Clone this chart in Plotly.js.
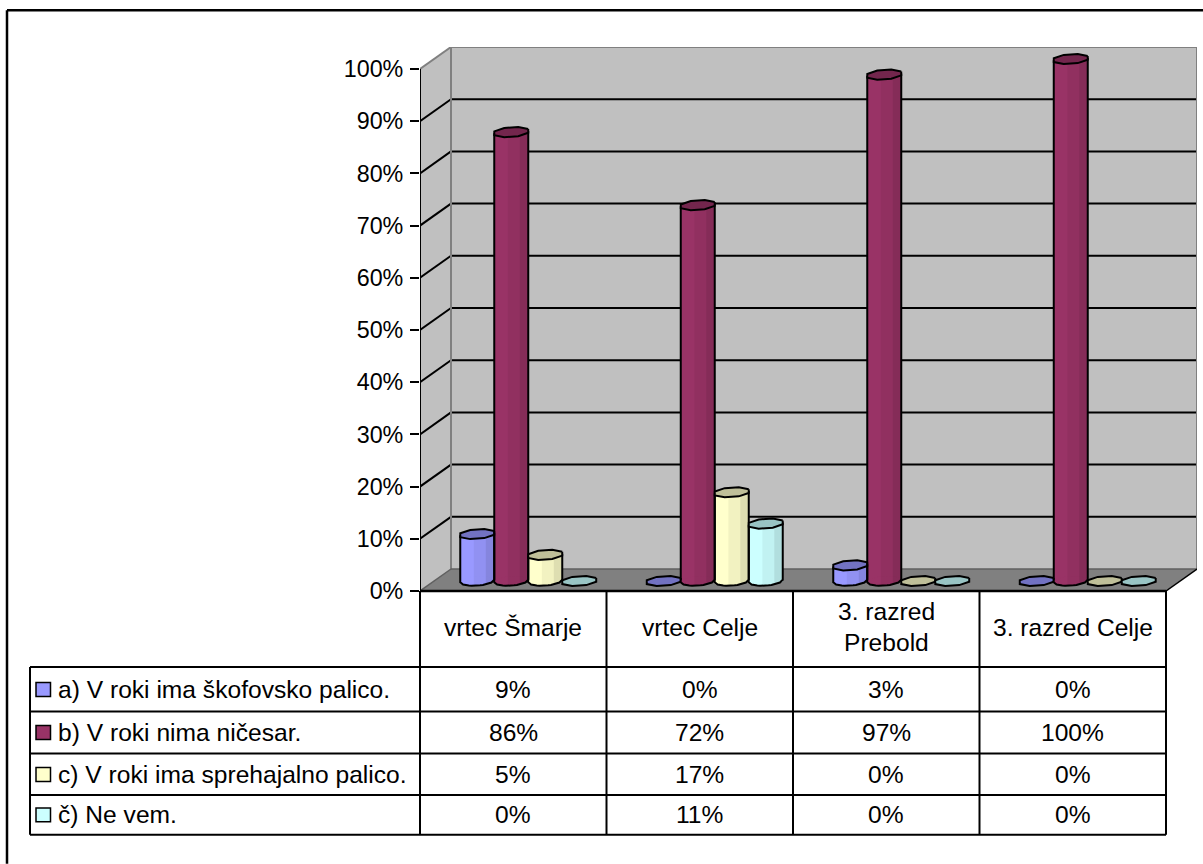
<!DOCTYPE html>
<html>
<head>
<meta charset="utf-8">
<script src="https://cdn.plot.ly/plotly-3.0.1.min.js"></script>
<style>html,body{margin:0;padding:0;background:#fff}#chart{width:1203px;height:864px}</style>
</head>
<body>
<div id="chart"></div>
<script>
// ---- chart data (percent) ----
const categories = ["vrtec Šmarje", "vrtec Celje", "3. razred<br>Prebold", "3. razred Celje"];
const seriesNames = [
  "a) V roki ima škofovsko palico.",
  "b) V roki nima ničesar.",
  "c) V roki ima sprehajalno palico.",
  "č) Ne vem."
];
const valuesA = [9, 0, 3, 0];
const valuesB = [86, 72, 97, 100];
const valuesC = [5, 17, 0, 0];
const valuesD = [0, 11, 0, 0];
const yTicks = [0, 10, 20, 30, 40, 50, 60, 70, 80, 90, 100];

// ---- styles ----
const faceColors = ["#9999ff", "#993366", "#ffffcc", "#ccffff"];
const capColors = ["#7272c2", "#73264d", "#bfbf99", "#99c4c4"];
const allValues = [valuesA, valuesB, valuesC, valuesD];
const FONT = "Liberation Sans, Arial, sans-serif";
const FS = 23.3, TABLE_FS = 24.6;

// ---- geometry (pixels of the picture) ----
const L = 420, R = 1197, T = 46.7, B = 591;
const frontRight = 1166, frontTop = 68.7;
const colW = (frontRight - L) / 4;
const pxPerPct = (B - frontTop) / 100;
const xMax = (R - L) / colW;
const yMax = (B - T) / pxPerPct;
const depthX = (R - frontRight) / colW;     // wall depth in axis units
const depthY = (frontTop - T) / pxPerPct;
const baseY = 10 / pxPerPct;                // bars stand mid-way on the floor
const shiftX = 15 / colW;
const barW = 34 / colW;
const capH = 4.6 / pxPerPct, capTilt = 1.2 / pxPerPct;

const px = v => (v - L) / (R - L);
const py = v => (B - v) / (B - T);
const line = (x0, y0, x1, y1, color, width, xref, yref) => ({
  type: "line", x0, y0, x1, y1, xref: xref || "x", yref: yref || "y",
  line: {color, width}, layer: "below"
});
const pline = (x0, y0, x1, y1, width) => ({
  type: "line", x0: px(x0), y0: py(y0), x1: px(x1), y1: py(y1),
  xref: "paper", yref: "paper", line: {color: "#000", width: width || 2}, layer: "above"
});
const poly = (pts, fill, stroke) => ({
  type: "path", xref: "x", yref: "y", layer: "below", fillcolor: fill,
  line: {color: stroke || fill, width: stroke ? 2 : 0},
  path: "M" + pts.map(p => p.join(",")).join("L") + "Z"
});

const shapes = [];
// walls & floor
shapes.push(poly([[0, 0], [depthX, depthY], [depthX, yMax], [0, 100]], "#c0c0c0"));
shapes.push(poly([[depthX, depthY], [xMax, depthY], [xMax, yMax], [depthX, yMax]], "#c0c0c0"));
shapes.push(poly([[0, 0], [depthX, depthY], [xMax, depthY], [4, 0]], "#808080"));
// wall gridlines
yTicks.forEach(v => {
  if (v > 0 && v < 100) {
    shapes.push(line(0, v, depthX, v + depthY, "#000", 2));
    shapes.push(line(depthX, v + depthY, xMax, v + depthY, "#000", 2));
  }
});
// wall edges
shapes.push(line(0, 100, depthX, yMax, "#808080", 2));
shapes.push(line(depthX, yMax, xMax, yMax, "#808080", 2));
shapes.push(line(xMax, yMax, xMax, depthY, "#808080", 2));
shapes.push(line(depthX, yMax, depthX, depthY, "#808080", 2));
shapes.push(line(depthX, depthY, xMax, depthY, "#606060", 1.5));
shapes.push(line(0, 0, depthX, depthY, "#606060", 1.5));
shapes.push(line(4, 0, xMax, depthY, "#000", 1.5));

// table
const rowY = [667, 711.5, 753.5, 795, 835];
const colX = [L, L + colW, L + 2 * colW, L + 3 * colW, frontRight];
shapes.push(pline(L, 591, frontRight, 591, 2.5));
colX.forEach(x => shapes.push(pline(x, 591, x, 835)));
rowY.forEach(y => shapes.push(pline(30, y, frontRight, y)));
shapes.push(pline(30, 667, 30, 835));
// outer frame: only top and left are inside the picture
shapes.push(pline(7, 10, 1203, 10, 2.5));
shapes.push(pline(7, 10, 7, 864, 2.5));

// table text
const annotations = [];
const text = (t, x, y, anchor) => annotations.push({
  text: t, x: px(x), y: py(y), xref: "paper", yref: "paper", showarrow: false,
  xanchor: anchor || "center", yanchor: "middle", font: {family: FONT, size: TABLE_FS, color: "#000"}
});
categories.forEach((c, i) => {
  const cx = L + (i + 0.5) * colW;
  const parts = c.split("<br>");
  if (parts.length === 1) text(c, cx, 628);
  else { text(parts[0], cx, 612); text(parts[1], cx, 643); }
});
const rowMid = [689.5, 732.5, 774.5, 815];
seriesNames.forEach((name, k) => {
  text(name, 56, rowMid[k], "left");
  allValues[k].forEach((v, i) => text(v + "%", L + (i + 0.5) * colW, rowMid[k]));
  shapes.push({
    type: "rect", xref: "paper", yref: "paper",
    x0: px(36), x1: px(50.5), y0: py(rowMid[k] + 7), y1: py(rowMid[k] - 7),
    fillcolor: faceColors[k], line: {color: "#000", width: 1.5}, layer: "above"
  });
});

// ---- bars ----
const traces = [];
const ring = 8;
const ellipse = (cx, cy) => {
  const xs = [], ys = [];
  for (let a = 0; a <= ring; a++) {
    const t = (a + 0.5) / ring * 2 * Math.PI;
    const u = Math.cos(t) * 1.08, w = Math.sin(t) * 1.08;
    xs.push(cx + u * barW / 2);
    ys.push(cy + w * capH + u * capTilt);
  }
  return {xs, ys};
};
const curveY = (u, top) => top - Math.sqrt(Math.max(0, 1 - u * u)) * capH + u * capTilt;

allValues.forEach((vals, k) => {
  const xc = vals.map((_, i) => i + 0.5 + shiftX + (k - 1.5) * barW);
  // bar body: real bar
  traces.push({
    type: "bar", x: xc, y: vals, base: vals.map(() => baseY), width: barW,
    name: seriesNames[k], marker: {color: vals.map(v => v > 0 ? faceColors[k] : "rgba(0,0,0,0)"), line: {width: 0}},
    showlegend: false, hoverinfo: "skip"
  });
  // rim, facets, outline and caps follow the same values
  const rimX = [], rimY = [], mid = {x: [], y: []}, dark = {x: [], y: []}, ox = [], oy = [], capX = [], capY = [];
  const facet = (store, cx, top, bot, u0, u1) => {
    const n = 5;
    for (let j = 0; j <= n; j++) { const u = u0 + (u1 - u0) * j / n; store.x.push(cx + u * barW / 2); store.y.push(curveY(u, top)); }
    for (let j = n; j >= 0; j--) { const u = u0 + (u1 - u0) * j / n; store.x.push(cx + u * barW / 2); store.y.push(curveY(u, bot)); }
    store.x.push(null); store.y.push(null);
  };
  vals.forEach((v, i) => {
    const cx = xc[i], top = baseY + v;
    if (v > 0) {
      const rim = ellipse(cx, baseY);
      rimX.push(...rim.xs, null); rimY.push(...rim.ys, null);
      facet(mid, cx, top, baseY, -0.2, 0.5);
      facet(dark, cx, top, baseY, 0.5, 1);
      ox.push(cx - barW / 2); oy.push(curveY(-1, top));
      for (let j = 0; j <= 12; j++) {
        const u = -1 + j / 6;
        ox.push(cx + u * barW / 2); oy.push(curveY(u, baseY));
      }
      ox.push(cx + barW / 2, null); oy.push(curveY(1, top), null);
    }
    const c = ellipse(cx, top);
    capX.push(...c.xs, null); capY.push(...c.ys, null);
  });
  const aux = {type: "scatter", mode: "lines", showlegend: false, hoverinfo: "skip"};
  if (rimX.length) traces.push({...aux, x: rimX, y: rimY, fill: "toself", fillcolor: faceColors[k], line: {width: 0}});
  traces.push({...aux, x: mid.x, y: mid.y, fill: "toself", fillcolor: "rgba(0,0,0,0.05)", line: {width: 0}});
  traces.push({...aux, x: dark.x, y: dark.y, fill: "toself", fillcolor: "rgba(0,0,0,0.13)", line: {width: 0}});
  traces.push({...aux, x: ox, y: oy, line: {color: "#000", width: 2}});
  traces.push({...aux, x: capX, y: capY, fill: "toself", fillcolor: capColors[k], line: {color: "#000", width: 2}});
});

const layout = {
  width: 1203, height: 864, autosize: false,
  margin: {l: L, r: 1203 - R, t: T, b: 864 - B, pad: 0},
  paper_bgcolor: "#fff", plot_bgcolor: "rgba(0,0,0,0)",
  barmode: "overlay", showlegend: false,
  xaxis: {range: [0, xMax], showgrid: false, zeroline: false, showticklabels: false, ticks: "", fixedrange: true},
  yaxis: {
    range: [0, yMax], tickmode: "array", tickvals: yTicks, ticktext: yTicks.map(v => v + "%"),
    ticks: "outside", ticklen: 9, tickwidth: 2, tickcolor: "#000", ticklabelstandoff: 2,
    tickfont: {family: FONT, size: FS, color: "#000"},
    showgrid: false, zeroline: false, showline: false, fixedrange: true
  },
  shapes, annotations
};
// the value axis line stops at 100%
shapes.push({type: "line", xref: "x", yref: "y", x0: 0, x1: 0, y0: 0, y1: 100, line: {color: "#000", width: 2}, layer: "above"});

Plotly.newPlot("chart", traces, layout, {displayModeBar: false, staticPlot: true});
</script>
</body>
</html>
